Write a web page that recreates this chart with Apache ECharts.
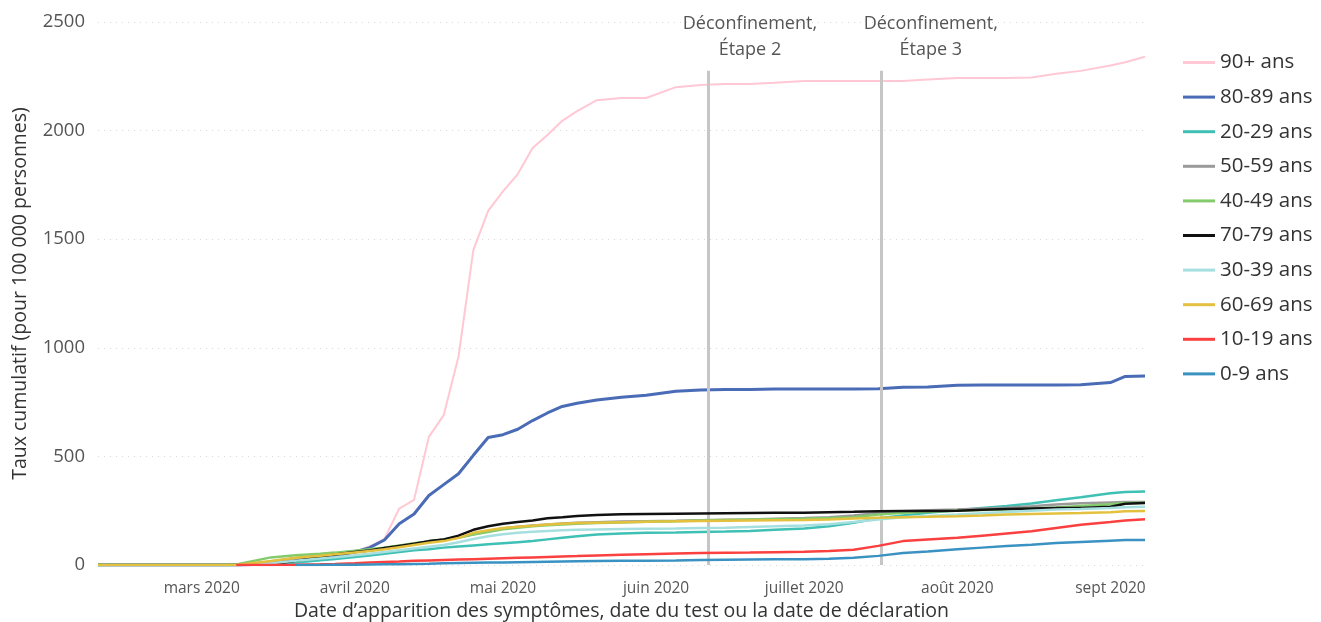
<!DOCTYPE html>
<html>
<head>
<meta charset="utf-8">
<script src="https://cdn.jsdelivr.net/npm/echarts@6/dist/echarts.min.js"></script>
<style>
html,body{margin:0;padding:0;background:#fff;overflow:hidden;}
#chart{width:1321px;height:622px;}
</style>
</head>
<body>
<div id="chart"></div>
<script>
const dates = ['2020-02-09','2020-02-20','2020-03-01','2020-03-05','2020-03-08','2020-03-15','2020-03-20','2020-03-25','2020-03-28','2020-04-01',
'2020-04-04','2020-04-07','2020-04-10','2020-04-13','2020-04-16','2020-04-19','2020-04-22','2020-04-25','2020-04-28','2020-05-01',
'2020-05-04','2020-05-07','2020-05-10','2020-05-13','2020-05-16','2020-05-20','2020-05-25','2020-05-30','2020-06-05','2020-06-10',
'2020-06-15','2020-06-20','2020-06-25','2020-07-01','2020-07-06','2020-07-11','2020-07-16','2020-07-21','2020-07-26','2020-08-01',
'2020-08-06','2020-08-11','2020-08-16','2020-08-21','2020-08-26','2020-09-01','2020-09-04','2020-09-08'];

const age90 = [0,0,0,0,0,10,25,40,50,62, 85,120,260,300,590,690,960,1450,1630,1720,
1800,1920,1980,2045,2090,2140,2150,2150,2200,2210, 2214,2214,2220,2228,2228,2228,2228,2228,2235,2242,
2242,2242,2245,2262,2275,2300,2315,2340];
const age80 = [0,0,0,0,0,5,15,30,40,60, 80,115,190,235,320,370,420,505,587,600,
625,665,700,730,745,760,772,782,800,806, 808,808,810,810,810,810,812,818,820,828,
829,829,829,829,830,840,868,870];
const age20 = [0,0,0,0,0,3,12,22,28,37, 44,52,60,68,72,80,85,90,95,100,
105,110,118,125,132,140,145,148,150,152, 154,157,162,168,178,195,215,228,240,252,
263,272,283,298,312,330,336,338];
const age50 = [0,0,0,0,1,15,32,45,52,62, 70,78,88,98,108,118,128,142,155,168,
176,182,187,191,194,197,200,202,204,206, 208,210,213,216,220,228,240,248,252,256,
260,264,270,278,284,288,290,290];
const age40 = [0,0,0,0,2,35,45,52,57,66, 72,80,90,100,108,117,125,140,152,165,
172,178,183,187,190,193,196,199,202,205, 207,209,211,213,216,220,232,240,245,250,
253,256,260,265,272,280,285,287];
const age70 = [0,0,0,0,0,2,20,38,48,60, 67,78,88,98,110,118,135,162,178,190,
198,205,215,220,226,230,234,235,236,237, 238,239,240,241,243,245,248,249,249,250,
254,258,260,262,263,268,282,285];
const age30 = [0,0,0,0,0,8,20,30,36,45, 52,60,68,76,84,92,105,120,132,142,
148,153,157,160,162,164,166,167,168,170, 172,175,178,182,188,198,210,220,226,232,
238,244,250,255,258,262,266,268];
const age60 = [0,0,0,0,0,18,33,43,50,58, 64,72,82,92,102,110,125,148,160,170,
176,181,186,190,193,195,197,199,201,203, 204,205,206,207,210,214,217,220,222,225,
228,232,235,237,239,243,247,249];
const age10 = [null,null,null,null,0,0,1,3,5,8, 11,14,16,19,21,23,25,27,29,31,
33,35,37,39,41,44,47,50,53,55, 56,57,59,61,64,70,88,110,117,125,
135,145,155,170,185,198,205,211];
const age0 = [null,null,null,null,null,null,0,0,1,1, 2,3,4,5,6,8,9,10,11,12,
13,14,15,16,17,18,19,20,21,23, 24,25,26,27,29,33,42,55,62,72,
80,88,93,101,106,112,115,115];

const seriesNames = ['90+ ans','80-89 ans','20-29 ans','50-59 ans','40-49 ans','70-79 ans','30-39 ans','60-69 ans','10-19 ans','0-9 ans'];
const seriesValues = [age90, age80, age20, age50, age40, age70, age30, age60, age10, age0];
const seriesColors = ['#ffc8d4','#4a6bb5','#3fc0b4','#9a9a9a','#84cb6c','#111111','#a6dfdf','#e3c13e','#fb4040','#3a92c2'];
const seriesWidths = [2, 3, 2.5, 2.5, 2.5, 2.5, 2.5, 2.5, 2.5, 2.5];

const monthStarts = ['2020-03-01','2020-04-01','2020-05-01','2020-06-01','2020-07-01','2020-08-01','2020-09-01'];
const monthLabels = ['mars 2020','avril 2020','mai 2020','juin 2020','juillet 2020','août 2020','sept 2020'];
const axisStart = '2020-02-09';
const axisEnd = '2020-09-08';

const eventDates = ['2020-06-12','2020-07-17'];
const eventLabels = ['Déconfinement,\nÉtape 2','Déconfinement,\nÉtape 3'];
const eventTop = 2275;

const FONT = "'Segoe UI','Open Sans','Noto Sans',sans-serif";
const ts = d => Date.UTC(+d.slice(0,4), +d.slice(5,7) - 1, +d.slice(8,10));
const monthTs = monthStarts.map(ts);
const labelShift = [42, 50];

const series = seriesNames.map((name, k) => ({
  name: name,
  type: 'line',
  symbol: 'none',
  showSymbol: false,
  z: 2 + k,
  lineStyle: { color: seriesColors[k], width: seriesWidths[k] },
  itemStyle: { color: seriesColors[k] },
  data: dates.map((d, i) => [ts(d), seriesValues[k][i]])
}));

series.push({
  name: 'events',
  type: 'line',
  data: [],
  z: 1,
  markLine: {
    silent: true,
    symbol: ['none', 'none'],
    lineStyle: { color: '#c6c6c6', width: 3, type: 'solid' },
    label: {
      show: true,
      position: 'end',
      color: '#555',
      fontSize: 18,
      fontFamily: FONT,
      lineHeight: 26,
      align: 'center'
    },
    data: eventDates.map((d, i) => [
      { coord: [ts(d) - 43200000, 0], label: { formatter: eventLabels[i], offset: [labelShift[i], -3] } },
      { coord: [ts(d) - 43200000, eventTop] }
    ])
  }
});

const dom = document.getElementById('chart');
const chart = echarts.init(dom, null, { width: 1321, height: 622 });
chart.setOption({
  animation: false,
  backgroundColor: '#fff',
  textStyle: { fontFamily: FONT },
  grid: { left: 98, right: 176, top: 22, bottom: 57, outerBoundsMode: 'none', containLabel: false },
  legend: {
    orient: 'vertical',
    left: 1178,
    top: 47,
    icon: 'rect',
    itemWidth: 32,
    itemHeight: 3,
    itemGap: 13.6,
    data: seriesNames,
    textStyle: { fontSize: 20.5, color: '#333', fontFamily: FONT, lineHeight: 20 }
  },
  xAxis: {
    type: 'value',
    min: ts(axisStart),
    max: ts(axisEnd),
    name: 'Date d\u2019apparition des symptômes, date du test ou la date de déclaration',
    nameLocation: 'middle',
    nameGap: 35,
    nameTextStyle: { fontSize: 19.5, color: '#333', fontFamily: FONT },
    axisLine: { show: false },
    axisTick: { show: false },
    splitLine: { show: false },
    axisLabel: {
      customValues: monthTs,
      fontSize: 15.5,
      color: '#555',
      margin: 16,
      fontFamily: FONT,
      formatter: function (v) {
        const idx = monthTs.indexOf(v);
        return idx >= 0 ? monthLabels[idx] : '';
      }
    }
  },
  yAxis: {
    type: 'value',
    min: 0,
    max: 2500,
    interval: 500,
    name: 'Taux cumulatif (pour 100 000 personnes)',
    nameLocation: 'middle',
    nameGap: 68,
    nameTextStyle: { fontSize: 19.5, color: '#333', fontFamily: FONT },
    axisLine: { show: false },
    axisTick: { show: false },
    axisLabel: { fontSize: 18.5, color: '#555', margin: 13, fontFamily: FONT, formatter: v => String(v) },
    splitLine: { lineStyle: { color: '#d8d8d8', type: [1, 5], width: 1 } }
  },
  series: series
});
</script>
</body>
</html>
